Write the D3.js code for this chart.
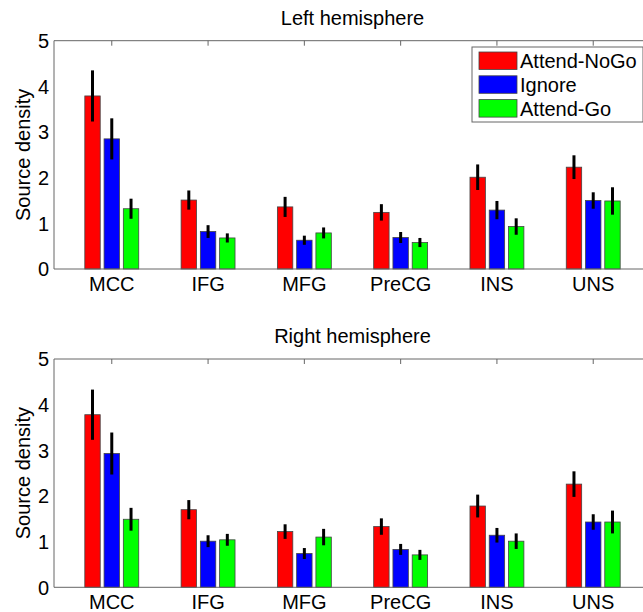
<!DOCTYPE html>
<html>
<head>
<meta charset="utf-8">
<script src="https://cdn.jsdelivr.net/npm/d3@7"></script>
<style>
  body { margin: 0; background: #fff; }
  text { font-family: "Liberation Sans", Arial, sans-serif; fill: #000; }
</style>
</head>
<body>
<div id="chart"></div>
<script>
const categories = ["MCC", "IFG", "MFG", "PreCG", "INS", "UNS"];
const seriesNames = ["Attend-NoGo", "Ignore", "Attend-Go"];
const seriesColors = ["#ff0000", "#0000ff", "#00ff00"];
const yTicks = [0, 1, 2, 3, 4, 5];

// Left hemisphere
const leftNoGo   = [3.79, 1.51, 1.36, 1.24, 2.01, 2.23];
const leftIgnore = [2.85, 0.82, 0.63, 0.69, 1.29, 1.50];
const leftGo     = [1.32, 0.68, 0.79, 0.58, 0.93, 1.49];
const leftNoGoErr   = [0.56, 0.21, 0.22, 0.18, 0.28, 0.26];
const leftIgnoreErr = [0.45, 0.14, 0.10, 0.12, 0.20, 0.18];
const leftGoErr     = [0.22, 0.10, 0.12, 0.10, 0.18, 0.30];

// Right hemisphere
const rightNoGo   = [3.78, 1.70, 1.22, 1.33, 1.78, 2.26];
const rightIgnore = [2.93, 1.01, 0.74, 0.83, 1.14, 1.43];
const rightGo     = [1.49, 1.04, 1.10, 0.71, 1.01, 1.43];
const rightNoGoErr   = [0.55, 0.21, 0.16, 0.18, 0.25, 0.28];
const rightIgnoreErr = [0.46, 0.13, 0.12, 0.12, 0.16, 0.17];
const rightGoErr     = [0.25, 0.13, 0.18, 0.11, 0.17, 0.25];

const width = 643, height = 612;
const svg = d3.select("#chart").append("svg")
    .attr("width", width)
    .attr("height", height);

const x = d3.scaleLinear().domain([0.4, 6.6]).range([54, 651]);
const offsets = [-0.2, 0, 0.2];
const barW = 0.16;

function panel(title, top, bottom, vals, errs, withLegend) {
  const y = d3.scaleLinear().domain([0, 5]).range([bottom, top]);
  const g = svg.append("g");

  // frame: top, left, bottom
  g.append("line").attr("x1", x(0.4)).attr("x2", x(6.6)).attr("y1", top).attr("y2", top)
      .attr("stroke", "#666").attr("stroke-width", 1);
  g.append("line").attr("x1", x(0.4)).attr("x2", x(0.4)).attr("y1", top).attr("y2", bottom)
      .attr("stroke", "#666").attr("stroke-width", 1);

  // top ticks
  g.selectAll(".ttick").data(categories).enter().append("line")
      .attr("x1", (d, i) => x(i + 1)).attr("x2", (d, i) => x(i + 1))
      .attr("y1", top).attr("y2", top + 5)
      .attr("stroke", "#666");

  // bars
  seriesNames.forEach(function(s, k) {
    g.selectAll(".bar" + k).data(vals[k]).enter().append("rect")
        .attr("x", (d, i) => x(i + 1 + offsets[k] - barW / 2))
        .attr("y", d => y(d))
        .attr("width", x(barW) - x(0))
        .attr("height", d => bottom - y(d))
        .attr("fill", seriesColors[k])
        .attr("stroke", "#444")
        .attr("stroke-width", 0.8);
  });

  // error bars
  seriesNames.forEach(function(s, k) {
    g.selectAll(".err" + k).data(vals[k]).enter().append("line")
        .attr("x1", (d, i) => x(i + 1 + offsets[k]))
        .attr("x2", (d, i) => x(i + 1 + offsets[k]))
        .attr("y1", (d, i) => y(d + errs[k][i]))
        .attr("y2", (d, i) => y(d - errs[k][i]))
        .attr("stroke", "#000")
        .attr("stroke-width", 3);
  });

  // bottom axis line
  g.append("line").attr("x1", x(0.4)).attr("x2", x(6.6)).attr("y1", bottom).attr("y2", bottom)
      .attr("stroke", "#666").attr("stroke-width", 1);

  // y tick labels
  g.selectAll(".ylab").data(yTicks).enter().append("text")
      .attr("x", x(0.4) - 5)
      .attr("y", d => y(d))
      .attr("dy", "0.36em")
      .attr("text-anchor", "end")
      .attr("font-size", 20)
      .text(d => d);

  // x tick labels
  g.selectAll(".xlab").data(categories).enter().append("text")
      .attr("x", (d, i) => x(i + 1))
      .attr("y", bottom + 22)
      .attr("text-anchor", "middle")
      .attr("font-size", 20)
      .text(d => d);

  // y label
  g.append("text")
      .attr("transform", "translate(30," + ((top + bottom) / 2) + ") rotate(-90)")
      .attr("text-anchor", "middle")
      .attr("font-size", 20)
      .text("Source density");

  // title
  g.append("text")
      .attr("x", (x(0.4) + x(6.6)) / 2)
      .attr("y", top - 16)
      .attr("text-anchor", "middle")
      .attr("font-size", 20)
      .text(title);

  if (withLegend) {
    const lg = g.append("g");
    lg.append("rect").attr("x", 472).attr("y", 47).attr("width", 171).attr("height", 75)
        .attr("fill", "#fff").attr("stroke", "#666");
    seriesNames.forEach(function(s, k) {
      lg.append("rect").attr("x", 479).attr("y", 52 + k * 23.8).attr("width", 38).attr("height", 17.5)
          .attr("fill", seriesColors[k]).attr("stroke", "#444").attr("stroke-width", 0.8);
      lg.append("text").attr("x", 520).attr("y", 61 + k * 23.8).attr("dy", "0.36em")
          .attr("font-size", 20).text(s);
    });
  }
}

panel("Left hemisphere", 40.7, 269,
  [leftNoGo, leftIgnore, leftGo], [leftNoGoErr, leftIgnoreErr, leftGoErr], true);
panel("Right hemisphere", 359, 587.3,
  [rightNoGo, rightIgnore, rightGo], [rightNoGoErr, rightIgnoreErr, rightGoErr], false);
</script>
</body>
</html>
